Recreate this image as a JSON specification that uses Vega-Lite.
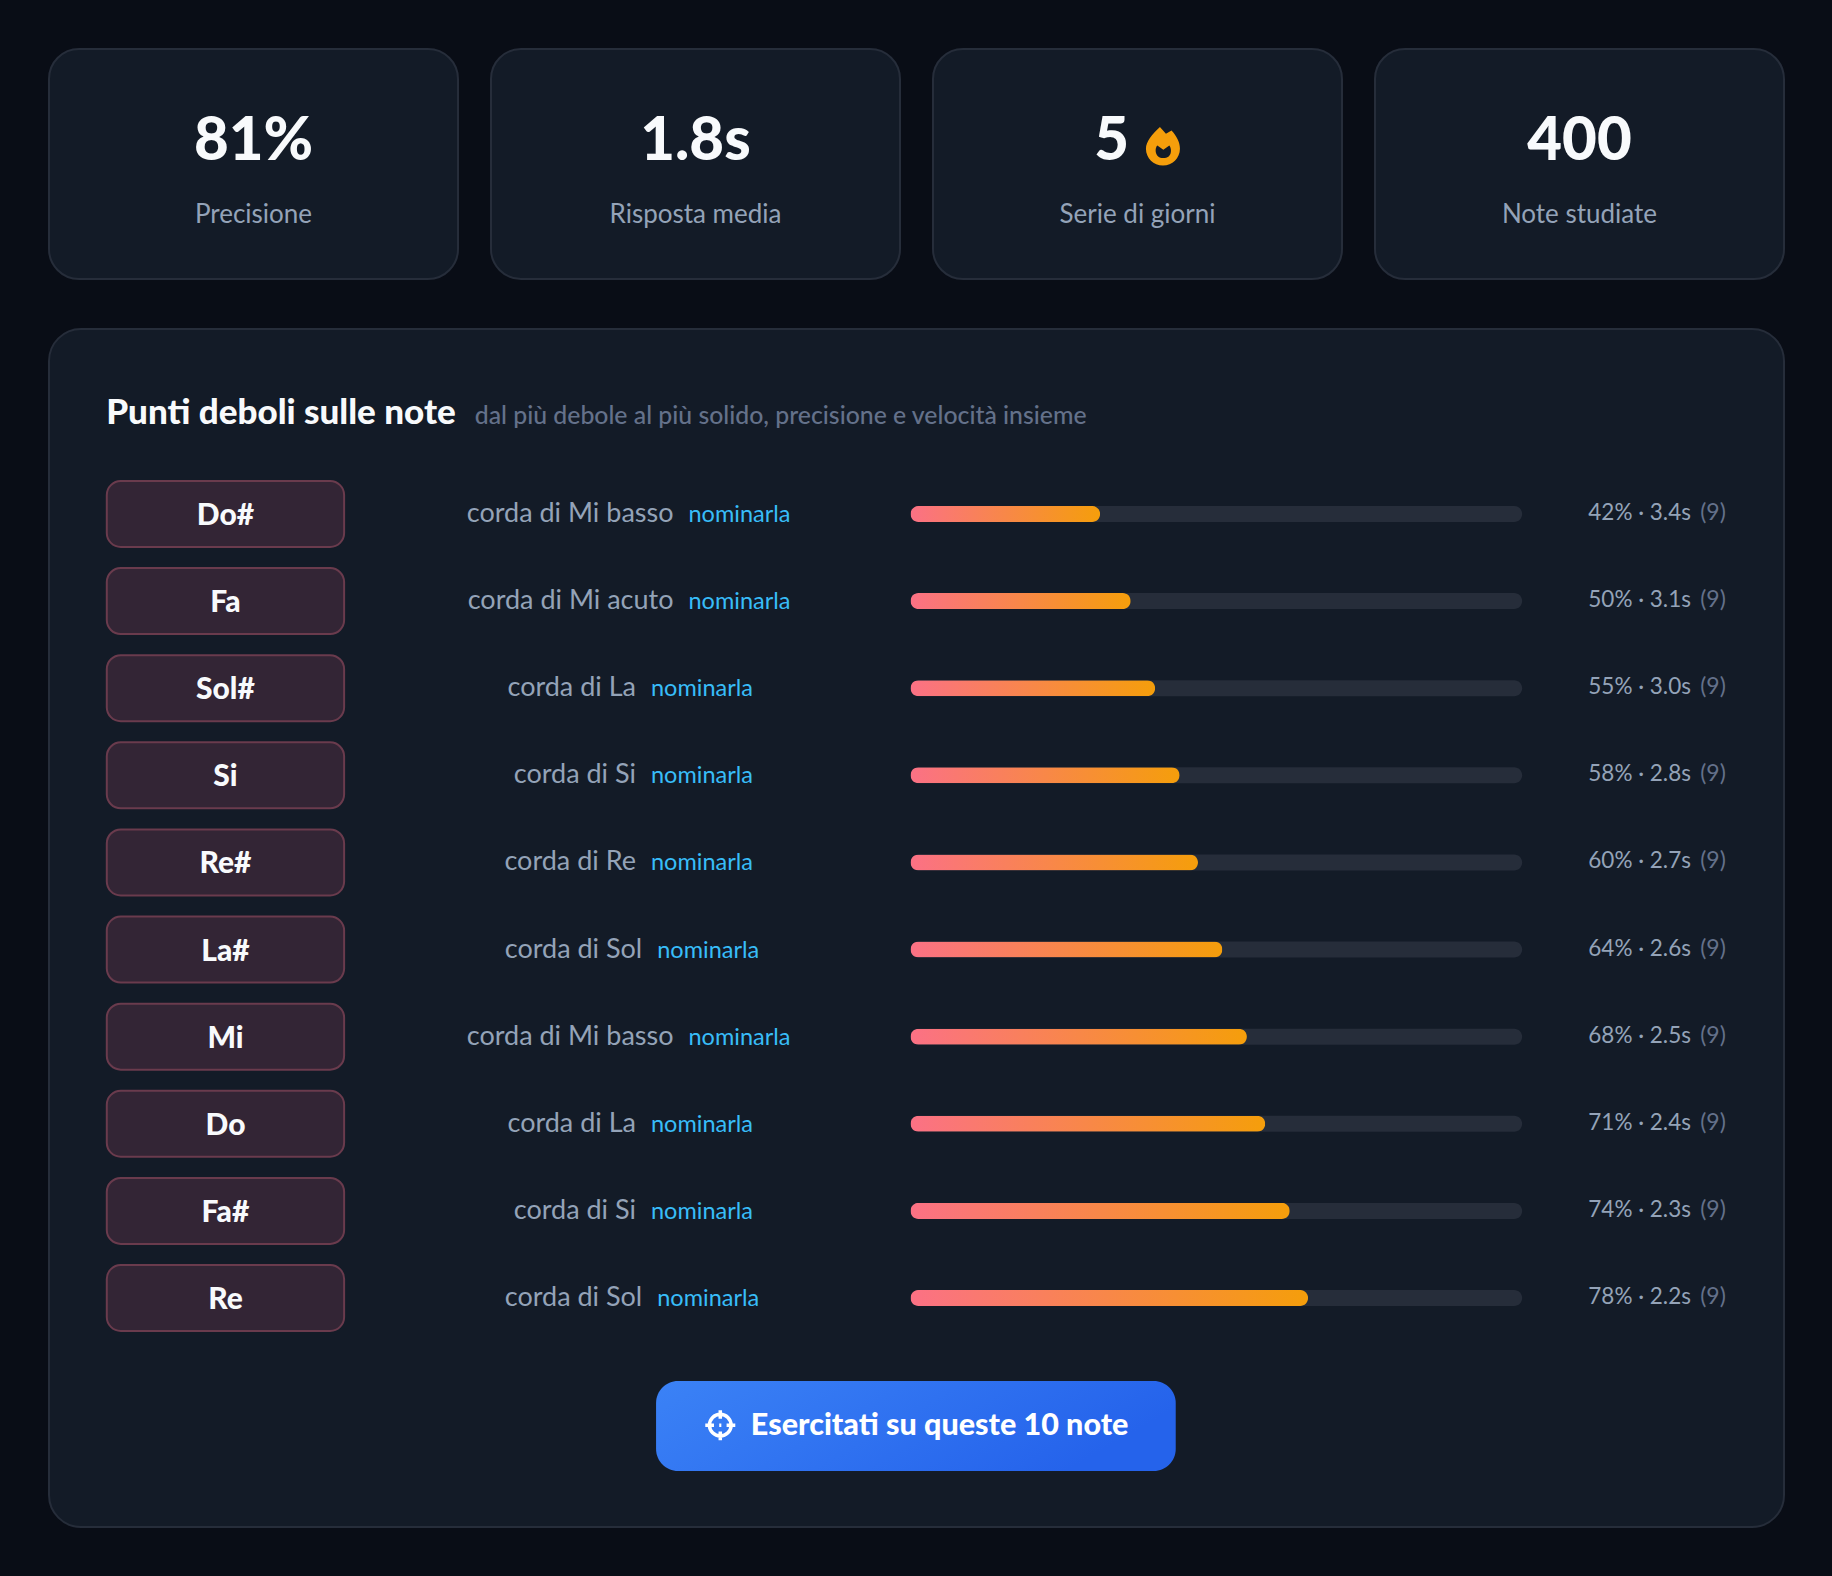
{"$schema":"https://vega.github.io/schema/vega-lite/v6.json","background":"#090d16","padding":{"left":48,"top":48,"right":47,"bottom":48},"spacing":48,"config":{"font":"Lato","text":{"font":"Lato"}},"datasets":{"rows":[{"rank":1,"note":"Do#","string":"corda di Mi basso","chars":17,"action":"nominarla","score":31,"stat":"42% · 3.4s","count":"(9)"},{"rank":2,"note":"Fa","string":"corda di Mi acuto","chars":17,"action":"nominarla","score":36,"stat":"50% · 3.1s","count":"(9)"},{"rank":3,"note":"Sol#","string":"corda di La","chars":11,"action":"nominarla","score":40,"stat":"55% · 3.0s","count":"(9)"},{"rank":4,"note":"Si","string":"corda di Si","chars":11,"action":"nominarla","score":44,"stat":"58% · 2.8s","count":"(9)"},{"rank":5,"note":"Re#","string":"corda di Re","chars":11,"action":"nominarla","score":47,"stat":"60% · 2.7s","count":"(9)"},{"rank":6,"note":"La#","string":"corda di Sol","chars":12,"action":"nominarla","score":51,"stat":"64% · 2.6s","count":"(9)"},{"rank":7,"note":"Mi","string":"corda di Mi basso","chars":17,"action":"nominarla","score":55,"stat":"68% · 2.5s","count":"(9)"},{"rank":8,"note":"Do","string":"corda di La","chars":11,"action":"nominarla","score":58,"stat":"71% · 2.4s","count":"(9)"},{"rank":9,"note":"Fa#","string":"corda di Si","chars":11,"action":"nominarla","score":62,"stat":"74% · 2.3s","count":"(9)"},{"rank":10,"note":"Re","string":"corda di Sol","chars":12,"action":"nominarla","score":65,"stat":"78% · 2.2s","count":"(9)"}]},"vconcat":[{"spacing":31,"hconcat":[{"width":409,"height":230,"view":{"fill":"#131b27","stroke":"#262d3a","strokeWidth":2,"cornerRadius":30},"data":{"values":[{"label":"Precisione","value":"81%"}]},"layer":[{"mark":{"type":"text","fontSize":60,"fontWeight":900,"color":"#f8fafc","baseline":"alphabetic","dy":-4},"encoding":{"text":{"field":"value"}}},{"mark":{"type":"text","fontSize":26,"fontWeight":400,"color":"#94a3b8","baseline":"alphabetic","dy":59},"encoding":{"text":{"field":"label"}}}]},{"width":409,"height":230,"view":{"fill":"#131b27","stroke":"#262d3a","strokeWidth":2,"cornerRadius":30},"data":{"values":[{"label":"Risposta media","value":"1.8s"}]},"layer":[{"mark":{"type":"text","fontSize":60,"fontWeight":900,"color":"#f8fafc","baseline":"alphabetic","dy":-4},"encoding":{"text":{"field":"value"}}},{"mark":{"type":"text","fontSize":26,"fontWeight":400,"color":"#94a3b8","baseline":"alphabetic","dy":59},"encoding":{"text":{"field":"label"}}}]},{"width":409,"height":230,"view":{"fill":"#131b27","stroke":"#262d3a","strokeWidth":2,"cornerRadius":30},"data":{"values":[{"label":"Serie di giorni","value":"5"}]},"layer":[{"mark":{"type":"text","fontSize":60,"fontWeight":900,"color":"#f8fafc","baseline":"alphabetic","dy":-4},"encoding":{"x":{"datum":-26,"type":"quantitative","scale":{"domain":[-205,205],"nice":false,"zero":false},"axis":null},"text":{"field":"value"}}},{"mark":{"type":"point","filled":true,"color":"#f59e0b","opacity":1,"size":1600,"shape":"M-0.15 -0.95 L0.15 -0.62 L0.43 -0.78 C0.68 -0.5 0.85 -0.2 0.85 0.13 C0.85 0.6 0.47 0.97 0 0.97 C-0.47 0.97 -0.85 0.6 -0.85 0.13 C-0.85 -0.2 -0.55 -0.6 -0.15 -0.95 Z M-0.28 -0.03 C-0.42 0.1 -0.42 0.6 0.02 0.6 C0.46 0.6 0.46 0.15 0.32 -0.03 L0.02 0.18 Z"},"encoding":{"x":{"datum":25.5,"type":"quantitative","scale":{"domain":[-205,205],"nice":false,"zero":false},"axis":null},"y":{"datum":-18,"type":"quantitative","scale":{"domain":[-115.5,115.5],"reverse":true,"nice":false,"zero":false},"axis":null}}},{"mark":{"type":"text","fontSize":26,"fontWeight":400,"color":"#94a3b8","baseline":"alphabetic","dy":59},"encoding":{"text":{"field":"label"}}}]},{"width":409,"height":230,"view":{"fill":"#131b27","stroke":"#262d3a","strokeWidth":2,"cornerRadius":30},"data":{"values":[{"label":"Note studiate","value":"400"}]},"layer":[{"mark":{"type":"text","fontSize":60,"fontWeight":900,"color":"#f8fafc","baseline":"alphabetic","dy":-4},"encoding":{"text":{"field":"value"}}},{"mark":{"type":"text","fontSize":26,"fontWeight":400,"color":"#94a3b8","baseline":"alphabetic","dy":59},"encoding":{"text":{"field":"label"}}}]}]},{"width":1735,"height":1198,"view":{"fill":"#131b27","stroke":"#262d3a","strokeWidth":2,"cornerRadius":32},"layer":[{"data":{"name":"rows"},"mark":{"type":"bar","orient":"horizontal","size":66,"fill":"#332535","stroke":"#6a3b4d","strokeWidth":2,"cornerRadius":14},"encoding":{"y":{"field":"rank","type":"quantitative","scale":{"domain":[-1.1237,12.629],"reverse":true,"nice":false,"zero":false,"padding":0},"axis":null},"x":{"datum":-131.4,"type":"quantitative","scale":{"domain":[-140.85,142.81],"nice":false,"zero":false},"axis":null},"x2":{"datum":-92.6}}},{"data":{"name":"rows"},"mark":{"type":"text","fontSize":30,"fontWeight":900,"color":"#f8fafc","baseline":"middle","dy":2},"encoding":{"y":{"field":"rank","type":"quantitative","scale":{"domain":[-1.1237,12.629],"reverse":true,"nice":false,"zero":false,"padding":0},"axis":null},"x":{"datum":-112,"type":"quantitative","scale":{"domain":[-140.85,142.81],"nice":false,"zero":false},"axis":null},"text":{"field":"note"}}},{"data":{"name":"rows"},"mark":{"type":"text","fontSize":27,"color":"#94a3b8","align":"right","baseline":"middle","dy":0},"encoding":{"y":{"field":"rank","type":"quantitative","scale":{"domain":[-1.1237,12.629],"reverse":true,"nice":false,"zero":false,"padding":0},"axis":null},"x":{"field":"chars","type":"quantitative","scale":{"domain":[11,17],"range":[587,624.5],"nice":false,"zero":false},"axis":null},"text":{"field":"string"}}},{"data":{"name":"rows"},"mark":{"type":"text","fontSize":23.5,"color":"#38bdf8","align":"left","baseline":"middle","dx":15,"dy":1},"encoding":{"y":{"field":"rank","type":"quantitative","scale":{"domain":[-1.1237,12.629],"reverse":true,"nice":false,"zero":false,"padding":0},"axis":null},"x":{"field":"chars","type":"quantitative","scale":{"domain":[11,17],"range":[587,624.5],"nice":false,"zero":false},"axis":null},"text":{"field":"action"}}},{"data":{"name":"rows"},"mark":{"type":"bar","orient":"horizontal","size":16,"fill":"#262d3a","cornerRadius":8},"encoding":{"y":{"field":"rank","type":"quantitative","scale":{"domain":[-1.1237,12.629],"reverse":true,"nice":false,"zero":false,"padding":0},"axis":null},"x":{"datum":0,"type":"quantitative","scale":{"domain":[-140.85,142.81],"nice":false,"zero":false},"axis":null},"x2":{"datum":100}}},{"data":{"name":"rows"},"mark":{"type":"bar","orient":"horizontal","size":16,"cornerRadius":8,"fill":{"gradient":"linear","x1":0,"y1":0,"x2":1,"y2":0,"stops":[{"offset":0,"color":"#fb7185"},{"offset":1,"color":"#f59e0b"}]}},"encoding":{"y":{"field":"rank","type":"quantitative","scale":{"domain":[-1.1237,12.629],"reverse":true,"nice":false,"zero":false,"padding":0},"axis":null},"x":{"field":"score","type":"quantitative","scale":{"domain":[-140.85,142.81],"nice":false,"zero":false},"axis":null}}},{"data":{"name":"rows"},"mark":{"type":"text","fontSize":22.5,"color":"#94a3b8","align":"right","baseline":"middle","dy":-1},"encoding":{"y":{"field":"rank","type":"quantitative","scale":{"domain":[-1.1237,12.629],"reverse":true,"nice":false,"zero":false,"padding":0},"axis":null},"x":{"datum":127.6,"type":"quantitative","scale":{"domain":[-140.85,142.81],"nice":false,"zero":false},"axis":null},"text":{"field":"stat"}}},{"data":{"name":"rows"},"mark":{"type":"text","fontSize":23,"color":"#64718a","align":"right","baseline":"middle","dy":-1},"encoding":{"y":{"field":"rank","type":"quantitative","scale":{"domain":[-1.1237,12.629],"reverse":true,"nice":false,"zero":false,"padding":0},"axis":null},"x":{"datum":133.3,"type":"quantitative","scale":{"domain":[-140.85,142.81],"nice":false,"zero":false},"axis":null},"text":{"field":"count"}}},{"data":{"values":[{"title":"Punti deboli sulle note"}]},"mark":{"type":"text","fontSize":35,"fontWeight":900,"color":"#f8fafc","align":"left","baseline":"alphabetic"},"encoding":{"x":{"datum":-131.5,"type":"quantitative","scale":{"domain":[-140.85,142.81],"nice":false,"zero":false},"axis":null},"y":{"datum":-0.033,"type":"quantitative","scale":{"domain":[-1.1237,12.629],"reverse":true,"nice":false,"zero":false,"padding":0},"axis":null},"text":{"field":"title"}}},{"data":{"values":[{"subtitle":"dal più debole al più solido, precisione e velocità insieme"}]},"mark":{"type":"text","fontSize":24.8,"fontWeight":500,"color":"#64718a","align":"left","baseline":"alphabetic"},"encoding":{"x":{"datum":-71.25,"type":"quantitative","scale":{"domain":[-140.85,142.81],"nice":false,"zero":false},"axis":null},"y":{"datum":-0.033,"type":"quantitative","scale":{"domain":[-1.1237,12.629],"reverse":true,"nice":false,"zero":false,"padding":0},"axis":null},"text":{"field":"subtitle"}}},{"data":{"values":[{"cta":"Esercitati su queste 10 note"}]},"mark":{"type":"bar","orient":"horizontal","size":90,"cornerRadius":22,"fill":{"gradient":"linear","x1":0,"y1":0,"x2":1,"y2":0.3,"stops":[{"offset":0,"color":"#3b82f6"},{"offset":1,"color":"#2563eb"}]}},"encoding":{"x":{"datum":-41.6,"type":"quantitative","scale":{"domain":[-140.85,142.81],"nice":false,"zero":false},"axis":null},"x2":{"datum":43.36},"y":{"datum":11.47,"type":"quantitative","scale":{"domain":[-1.1237,12.629],"reverse":true,"nice":false,"zero":false,"padding":0},"axis":null}}},{"data":{"values":[{"cta":"Esercitati su queste 10 note"}]},"mark":{"type":"point","filled":false,"color":"#ffffff","opacity":1,"strokeWidth":3.5,"size":900,"shape":"M0.72 0 A0.72 0.72 0 1 1 -0.72 0 A0.72 0.72 0 1 1 0.72 0 Z M0 -1 L0 -0.42 M0 0.42 L0 1 M-1 0 L-0.42 0 M0.42 0 L1 0 M-0.07 0 L0.07 0"},"encoding":{"x":{"datum":-31.1,"type":"quantitative","scale":{"domain":[-140.85,142.81],"nice":false,"zero":false},"axis":null},"y":{"datum":11.46,"type":"quantitative","scale":{"domain":[-1.1237,12.629],"reverse":true,"nice":false,"zero":false,"padding":0},"axis":null}}},{"data":{"values":[{"cta":"Esercitati su queste 10 note"}]},"mark":{"type":"text","fontSize":30.5,"fontWeight":900,"color":"#ffffff","align":"left","baseline":"middle"},"encoding":{"x":{"datum":-26.1,"type":"quantitative","scale":{"domain":[-140.85,142.81],"nice":false,"zero":false},"axis":null},"y":{"datum":11.475,"type":"quantitative","scale":{"domain":[-1.1237,12.629],"reverse":true,"nice":false,"zero":false,"padding":0},"axis":null},"text":{"field":"cta"}}}],"resolve":{"scale":{"x":"independent"}}}]}
